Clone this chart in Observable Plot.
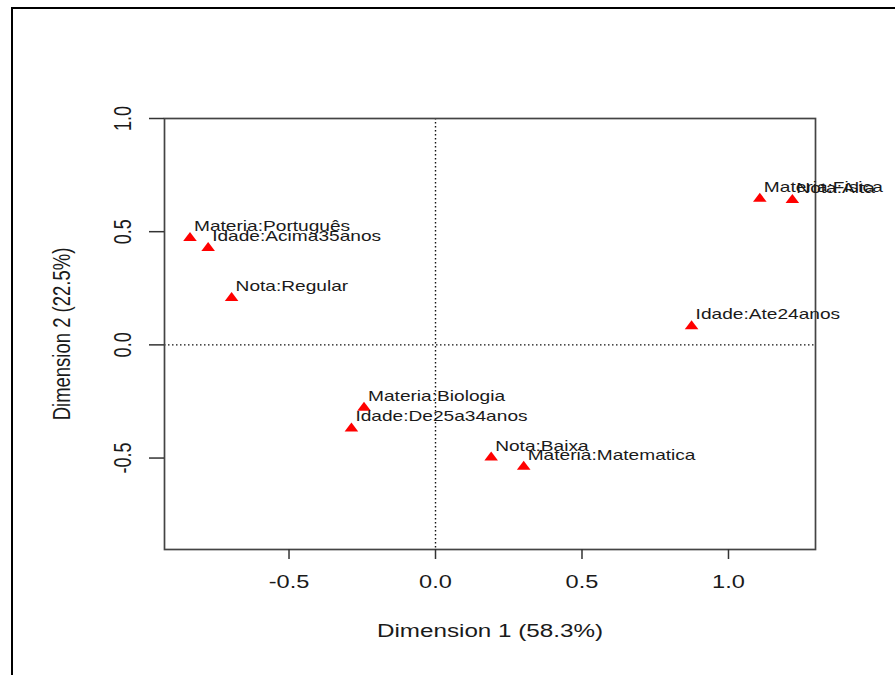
<!DOCTYPE html>
<html>
<head>
<meta charset="utf-8">
<script src="https://cdn.jsdelivr.net/npm/d3@7"></script>
<script src="https://cdn.jsdelivr.net/npm/@observablehq/plot@0.6"></script>
<style>
  html, body { margin: 0; padding: 0; background: #fff; overflow: hidden; }
  #wrap { position: relative; width: 895px; height: 675px; }
  #border { position: absolute; left: 11px; top: 7px; width: 1000px; height: 1000px;
            border-left: 2px solid #000; border-top: 2px solid #000; pointer-events: none; }
</style>
</head>
<body>
<div id="wrap"><div id="border"></div></div>
<script>
// Category labels and coordinates
const labels = ["Materia:Português", "Idade:Acima35anos", "Nota:Regular", "Materia:Fisica", "Nota:Alta",
                "Idade:Ate24anos", "Materia:Biologia", "Idade:De25a34anos", "Nota:Baixa", "Materia:Matematica"];
const dim1 = [-0.838, -0.776, -0.696, 1.107, 1.218, 0.874, -0.244, -0.287, 0.190, 0.301];
const dim2 = [0.472, 0.428, 0.207, 0.645, 0.640, 0.082, -0.278, -0.369, -0.498, -0.538];
const xTicks = [-0.5, 0.0, 0.5, 1.0];
const yTicks = [-0.5, 0.0, 0.5, 1.0];
const xTitle = "Dimension 1 (58.3%)";
const yTitle = "Dimension 2 (22.5%)";

const data = labels.map((l, i) => ({label: l, x: dim1[i], y: dim2[i]}));
const fmt = d => d.toFixed(1);
const ink = "#1a1a1a";

// triangle marker (stretched like the reference)
const tri = {
  draw(ctx) {
    ctx.moveTo(0, -6);
    ctx.lineTo(6.8, 3);
    ctx.lineTo(-6.8, 3);
    ctx.closePath();
  }
};

const svg = Plot.plot({
  width: 895,
  height: 675,
  marginLeft: 164,
  marginRight: 80,
  marginTop: 118,
  marginBottom: 126,
  style: {fontFamily: "'Liberation Sans', Arial, sans-serif", background: "transparent", color: ink},
  x: {domain: [-0.925, 1.297], axis: null},
  y: {domain: [-0.904, 1.0], axis: null},
  marks: [
    Plot.ruleX([0], {stroke: "#111", strokeWidth: 1.4, strokeDasharray: "1.5,2.5"}),
    Plot.ruleY([0], {stroke: "#111", strokeWidth: 1.4, strokeDasharray: "1.5,2.5"}),
    Plot.frame({stroke: "#444", strokeWidth: 1.7}),
    Plot.axisX({ticks: xTicks, tickSize: 10, tickFormat: () => "", label: null, stroke: "#333", strokeWidth: 1.5}),
    Plot.axisY({ticks: yTicks, tickSize: 15, tickFormat: () => "", label: null, stroke: "#333", strokeWidth: 1.5}),
    Plot.text(xTicks, {x: d => d, frameAnchor: "bottom", dy: 38, text: fmt, fontSize: 18, fill: ink, textAnchor: "middle"}),
    Plot.text(yTicks, {y: d => d, frameAnchor: "left", dx: -34, rotate: -90, text: fmt, fontSize: 18, fill: ink, textAnchor: "middle"}),
    Plot.text([xTitle], {frameAnchor: "bottom", dy: 87, text: d => d, fontSize: 18.5, fill: ink, textAnchor: "middle"}),
    Plot.text([yTitle], {frameAnchor: "left", dx: -95, rotate: -90, text: d => d, fontSize: 18.5, fill: ink, textAnchor: "middle"}),
    Plot.dot(data, {x: "x", y: "y", symbol: tri, fill: "#ff0000", stroke: "none", r: 5}),
    Plot.text(data, {x: "x", y: "y", text: "label", textAnchor: "start", dx: 4, dy: -7, fontSize: 14.6, fill: ink})
  ]
});

// the reference is horizontally stretched: widen all text the same way
const S = 1.31;
svg.querySelectorAll("text").forEach(t => {
  let tr = t.getAttribute("transform") || "";
  const x = t.getAttribute("x"), y = t.getAttribute("y");
  if ((x && +x !== 0) || (y && +y !== 0)) {
    tr += ` translate(${+x || 0},${+y || 0})`;
    t.removeAttribute("x"); t.removeAttribute("y");
  }
  if (/rotate\(\s*-?90/.test(tr)) tr += ` scale(1,${S})`;
  else tr += ` scale(${S},1)`;
  t.setAttribute("transform", tr.trim());
});
svg.style.position = "absolute";
svg.style.left = "0px";
svg.style.top = "0px";
svg.style.overflow = "hidden";
document.getElementById("wrap").prepend(svg);
</script>
</body>
</html>
